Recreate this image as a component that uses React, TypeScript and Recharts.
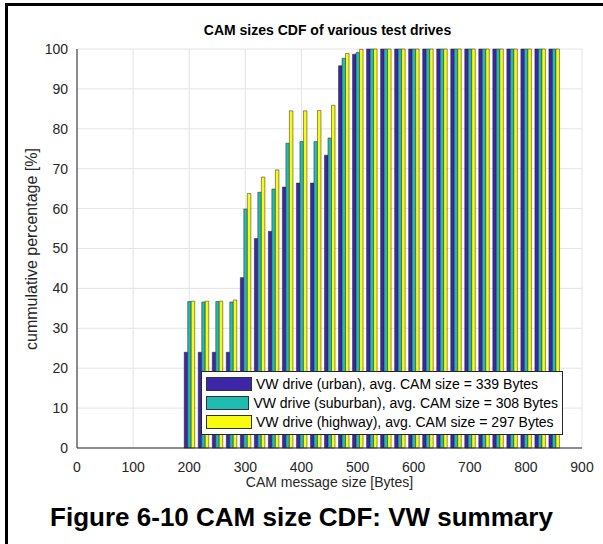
import React from "react";
import {
  BarChart,
  Bar,
  XAxis,
  YAxis,
  CartesianGrid,
  Legend,
} from "recharts";

const sizes = [
  200, 225, 250, 275, 300, 325, 350, 375, 400, 425, 450, 475, 500, 525, 550,
  575, 600, 625, 650, 675, 700, 725, 750, 775, 800, 825, 850,
];
const urban = [
  24, 24, 24, 24, 42.7, 52.5, 54.3, 65.4, 66.4, 66.4, 73.4, 95.8, 98.7, 100,
  100, 100, 100, 100, 100, 100, 100, 100, 100, 100, 100, 100, 100,
];
const suburban = [
  36.7, 36.6, 36.7, 36.6, 59.9, 64.1, 64.9, 76.4, 76.8, 76.8, 77.7, 97.7, 99.1,
  100, 100, 100, 100, 100, 100, 100, 100, 100, 100, 100, 100, 100, 100,
];
const highway = [
  36.8, 36.8, 36.8, 37.1, 63.8, 67.9, 69.7, 84.5, 84.5, 84.6, 85.9, 98.9, 99.9,
  100, 100, 100, 100, 100, 100, 100, 100, 100, 100, 100, 100, 100, 100,
];
const seriesNames = [
  "VW drive (urban), avg. CAM size = 339 Bytes",
  "VW drive (suburban), avg. CAM size = 308 Bytes",
  "VW drive (highway), avg. CAM size = 297 Bytes",
];
const xTicks = [0, 100, 200, 300, 400, 500, 600, 700, 800, 900];
const yTicks = [0, 10, 20, 30, 40, 50, 60, 70, 80, 90, 100];

const colors = ["#3e26a8", "#1fbdb1", "#f9fb0e"];

const data = sizes.map((s, i) => ({
  x: s,
  urban: urban[i],
  suburban: suburban[i],
  highway: highway[i],
}));

const FONT = "Arial, 'Liberation Sans', Helvetica, sans-serif";

const LegendBox = () => (
  <div
    style={{
      border: "1px solid #262626",
      background: "#fff",
      padding: "2px 4px 3px 4px",
      fontFamily: FONT,
      fontSize: 14,
      color: "#000",
      width: 362,
      boxSizing: "border-box",
    }}
  >
    {seriesNames.map((n, i) => (
      <div
        key={n}
        style={{ display: "flex", alignItems: "center", height: 19 }}
      >
        <div
          style={{
            width: 46,
            height: 14,
            background: colors[i],
            border: "1px solid #333",
            boxSizing: "border-box",
            marginRight: 4,
          }}
        />
        <span style={{ whiteSpace: "nowrap" }}>{n}</span>
      </div>
    ))}
  </div>
);

export default function App() {
  return (
    <div
      style={{
        position: "absolute",
        left: 0,
        top: 0,
        width: 603,
        height: 544,
        background: "#fff",
        overflow: "hidden",
      }}
    >
      <div
        style={{
          position: "absolute",
          left: 5,
          top: 3,
          width: 598,
          height: 3,
          background: "#000",
        }}
      />
      <div
        style={{
          position: "absolute",
          left: 5,
          top: 3,
          width: 3,
          height: 541,
          background: "#000",
        }}
      />
      <div
        style={{
          position: "absolute",
          left: 0,
          top: 22,
          width: 655,
          textAlign: "center",
          fontFamily: FONT,
          fontWeight: "bold",
          fontSize: 14,
          color: "#000",
        }}
      >
        CAM sizes CDF of various test drives
      </div>
      <div style={{ position: "absolute", left: 0, top: 0 }}>
        <BarChart
          width={603}
          height={544}
          data={data}
          margin={{ top: 49, right: 21, bottom: 66, left: 37 }}
          barGap={0}
          barSize={3.5}
        >
          <CartesianGrid stroke="#e4e4e4" strokeWidth={1} />
          <XAxis
            dataKey="x"
            type="number"
            domain={[0, 900]}
            ticks={xTicks}
            interval={0}
            height={30}
            tickLine={false}
            tickMargin={8}
            axisLine={{ stroke: "#262626" }}
            tick={{ fill: "#262626", fontSize: 14, fontFamily: FONT }}
            allowDataOverflow
          />
          <XAxis
            xAxisId="top"
            orientation="top"
            dataKey="x"
            type="number"
            domain={[0, 900]}
            ticks={xTicks}
            height={0}
            tick={false}
            tickLine={false}
            axisLine={{ stroke: "#262626" }}
          />
          <YAxis
            type="number"
            domain={[0, 100]}
            ticks={yTicks}
            interval={0}
            width={40}
            tickLine={false}
            tickSize={0}
            tickMargin={9}
            axisLine={{ stroke: "#262626" }}
            tick={{ fill: "#262626", fontSize: 14, fontFamily: FONT }}
          />
          <YAxis
            yAxisId="right"
            orientation="right"
            type="number"
            domain={[0, 100]}
            width={0}
            tick={false}
            tickLine={false}
            axisLine={{ stroke: "#262626" }}
          />
          <Legend
            layout="vertical"
            align="center"
            verticalAlign="middle"
            wrapperStyle={{ left: 201, top: 371, width: 362 }}
            content={() => <LegendBox />}
          />
          <Bar dataKey="urban" fill={colors[0]} stroke="#222" strokeWidth={0.5} isAnimationActive={false} />
          <Bar dataKey="suburban" fill={colors[1]} stroke="#222" strokeWidth={0.5} isAnimationActive={false} />
          <Bar dataKey="highway" fill={colors[2]} stroke="#222" strokeWidth={0.5} isAnimationActive={false} />
        </BarChart>
      </div>
      <div
        style={{
          position: "absolute",
          left: 32,
          top: 249,
          width: 0,
          height: 0,
        }}
      >
        <div
          style={{
            position: "absolute",
            left: 0,
            top: 0,
            transform: "translate(-50%, -50%) rotate(-90deg)",
            whiteSpace: "nowrap",
            fontFamily: FONT,
            fontSize: 16,
            lineHeight: "18px",
            color: "#262626",
          }}
        >
          cummulative percentage [%]
        </div>
      </div>
      <div
        style={{
          position: "absolute",
          left: 0,
          top: 474,
          width: 659,
          textAlign: "center",
          fontFamily: FONT,
          fontSize: 14,
          color: "#262626",
        }}
      >
        CAM message size [Bytes]
      </div>
      <div
        style={{
          position: "absolute",
          left: 0,
          top: 502,
          width: 603,
          textAlign: "center",
          fontFamily: FONT,
          fontWeight: "bold",
          fontSize: 26,
          color: "#000",
        }}
      >
        Figure 6-10 CAM size CDF: VW summary
      </div>
    </div>
  );
}
